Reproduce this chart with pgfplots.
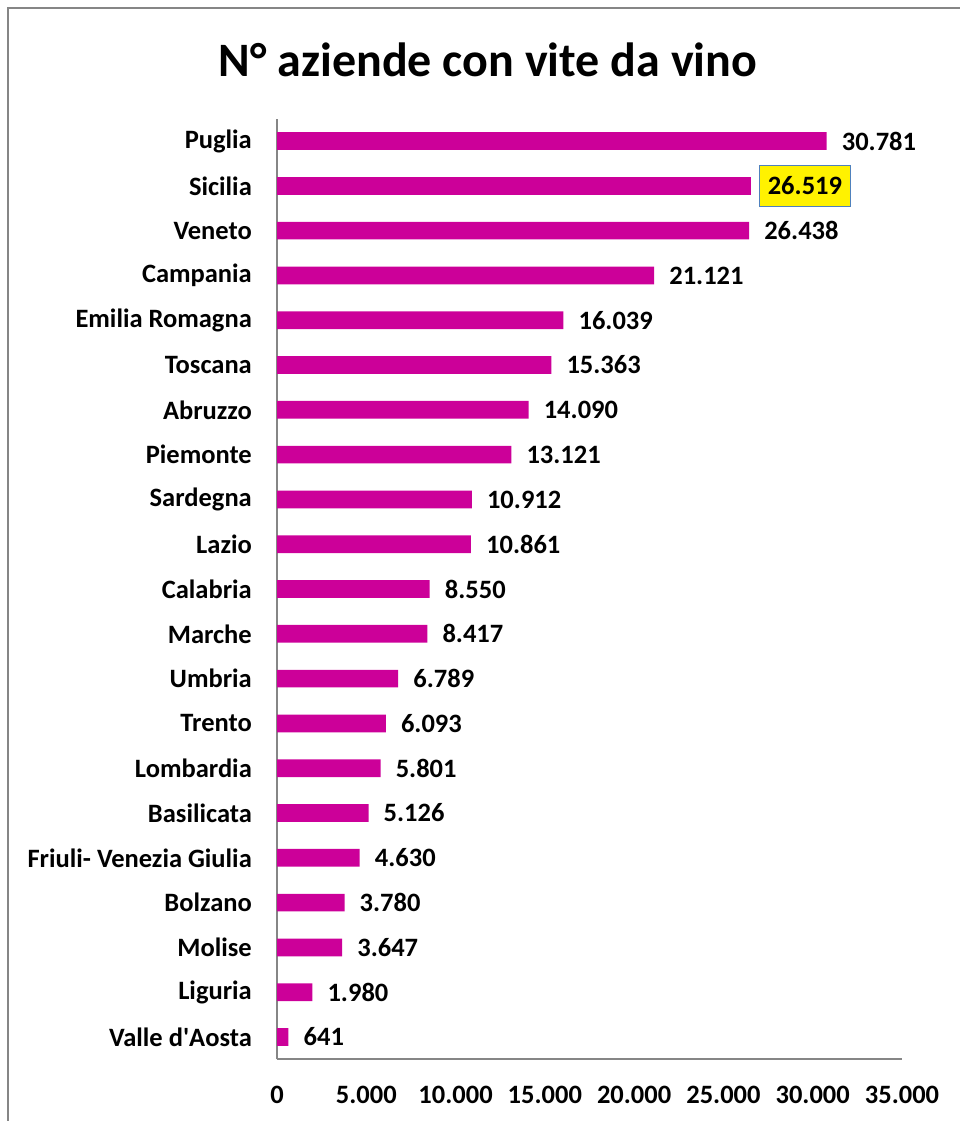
\documentclass[border=0pt]{standalone}
\usepackage{pgfplots}
\pgfplotsset{compat=1.18}
\usepackage{fontspec}
\setmainfont{Carlito}
\definecolor{barc}{HTML}{CC0099}
\definecolor{axc}{HTML}{868686}
\definecolor{boxc}{HTML}{4F81BD}
\begin{document}
\begin{tikzpicture}[x=1pt,y=1pt]
\path[use as bounding box] (0,0) rectangle (960,-1121);
\draw[axc, line width=2pt] (8,-1121) -- (8,-8) -- (960,-8);
\node[font=\bfseries\fontsize{48}{56}\selectfont] at (488,-60) {N° aziende con vite da vino};
\begin{axis}[
 at={(277pt,-1059.4pt)}, anchor=south west,
 scale only axis, width=625pt, height=940.8pt,
 xbar, bar width=17.7pt, bar shift=0pt,
 xmin=0, xmax=35000, ymin=-0.5, ymax=20.5,
 axis lines*=left, axis line style={axc, line width=2pt},
 major tick length=0pt,
 xtick={0,5000,...,35000},
 ytick={0,...,20},
 yticklabels={Valle d\textquotesingle Aosta, Liguria, Molise, Bolzano, Friuli- Venezia Giulia, Basilicata, Lombardia, Trento, Umbria, Marche\ , Calabria, Lazio\ , Sardegna, Piemonte, Abruzzo\ , Toscana, Emilia Romagna\ , Campania, Veneto, Sicilia, Puglia\ },
 ticklabel style={font=\bfseries\fontsize{26.5}{30}\selectfont, text=black},
 xticklabel style={anchor=center, yshift=-35pt},
 yticklabel style={anchor=east, inner sep=0pt, xshift=-25pt},
 /pgf/number format/1000 sep={.},
 /pgf/number format/assume math mode=true,
 scaled x ticks=false,
 point meta=x,
 nodes near coords={\pgfmathprintnumber{\pgfplotspointmeta}},
 every node near coord/.append style={font=\bfseries\fontsize{26.5}{30}\selectfont, text=black, anchor=west, inner sep=0pt, xshift=15pt},
]
\addplot[fill=barc, draw=none] coordinates {
(30781,20) (26438,18) (21121,17) (16039,16) (15363,15) (14090,14) (13121,13) (10912,12) (10861,11) (8550,10) (8417,9) (6789,8) (6093,7) (5801,6) (5126,5) (4630,4) (3780,3) (3647,2) (1980,1) (641,0)
};
\addplot[fill=barc, draw=none, every node near coord/.append style={fill=yellow, draw=boxc, line width=1.5pt, inner xsep=8.5pt, inner ysep=0pt, minimum height=41pt, xshift=-7pt}] coordinates {
(26519,19)
};
\end{axis}
\end{tikzpicture}
\end{document}
